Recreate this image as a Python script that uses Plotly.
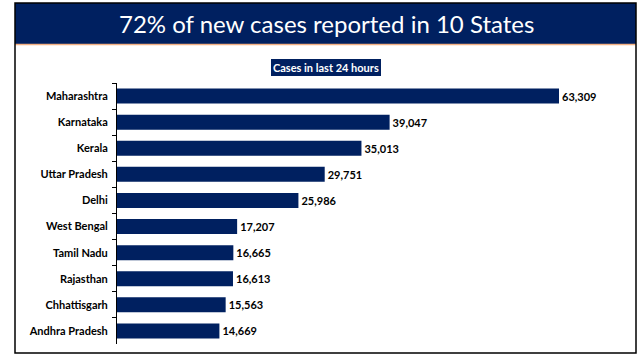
import plotly.graph_objects as go

states = ["Maharashtra", "Karnataka", "Kerala", "Uttar Pradesh", "Delhi",
          "West Bengal", "Tamil Nadu", "Rajasthan", "Chhattisgarh", "Andhra Pradesh"]
cases = [63309, 39047, 35013, 29751, 25986, 17207, 16665, 16613, 15563, 14669]

title_text = "72% of new cases reported in 10 States"
subtitle_text = "Cases in last 24 hours"

W, H = 641, 357
NAVY = "#002060"

def px(x):
    return x / W

def py(y):
    return 1 - y / H

fig = go.Figure(go.Bar(
    x=cases, y=states, orientation="h",
    marker=dict(color=NAVY, line=dict(width=0)),
    text=cases, texttemplate="%{x:,}", textposition="outside",
    textfont=dict(family="Lato", size=11, color="black", weight="bold"),
    cliponaxis=False,
))

plot_left, plot_right = 117, 620
scale = (559 - 117) / 63309

fig.update_layout(
    width=W, height=H,
    margin=dict(l=0, r=0, t=0, b=0),
    paper_bgcolor="white", plot_bgcolor="white",
    showlegend=False,
    bargap=0.425,
    font=dict(family="Lato"),
    xaxis=dict(domain=[px(plot_left), px(plot_right)],
               range=[0, (plot_right - plot_left) / scale],
               visible=False, fixedrange=True),
    yaxis=dict(domain=[py(344), py(83)], autorange="reversed",
               showline=True, linecolor="black", linewidth=1,
               ticks="outside", ticklen=4, tickcolor="black", tickson="boundaries",
               tickfont=dict(family="Lato", size=11, color="black", weight="bold"),
               ticklabelstandoff=6, showgrid=False, zeroline=False, fixedrange=True),
    shapes=[
        dict(type="rect", xref="paper", yref="paper",
             x0=px(15), x1=px(636), y0=py(44), y1=py(3),
             fillcolor=NAVY, line=dict(width=0), layer="below"),
        dict(type="line", xref="paper", yref="paper",
             x0=px(15), x1=px(636), y0=py(44.5), y1=py(44.5),
             line=dict(color="#f4b183", width=1.5)),
        dict(type="rect", xref="paper", yref="paper",
             x0=px(15), x1=px(636), y0=py(353), y1=py(3),
             fillcolor="rgba(0,0,0,0)", line=dict(color="black", width=1.5)),
        dict(type="rect", xref="paper", yref="paper",
             x0=px(271), x1=px(381), y0=py(76), y1=py(59),
             fillcolor=NAVY, line=dict(width=0)),
    ],
    annotations=[
        dict(text=title_text, xref="paper", yref="paper", x=px(326), y=py(23.5),
             xanchor="center", yanchor="middle", showarrow=False,
             font=dict(family="Lato", size=24, color="white")),
        dict(text=subtitle_text, xref="paper", yref="paper", x=px(326), y=py(67.5),
             xanchor="center", yanchor="middle", showarrow=False,
             font=dict(family="Lato", size=11, color="white", weight="bold")),
    ],
)

fig.write_html(
    "out.html",
    config={"displayModeBar": False},
    post_script="document.body.style.margin='0';document.body.style.overflow='hidden';",
)
